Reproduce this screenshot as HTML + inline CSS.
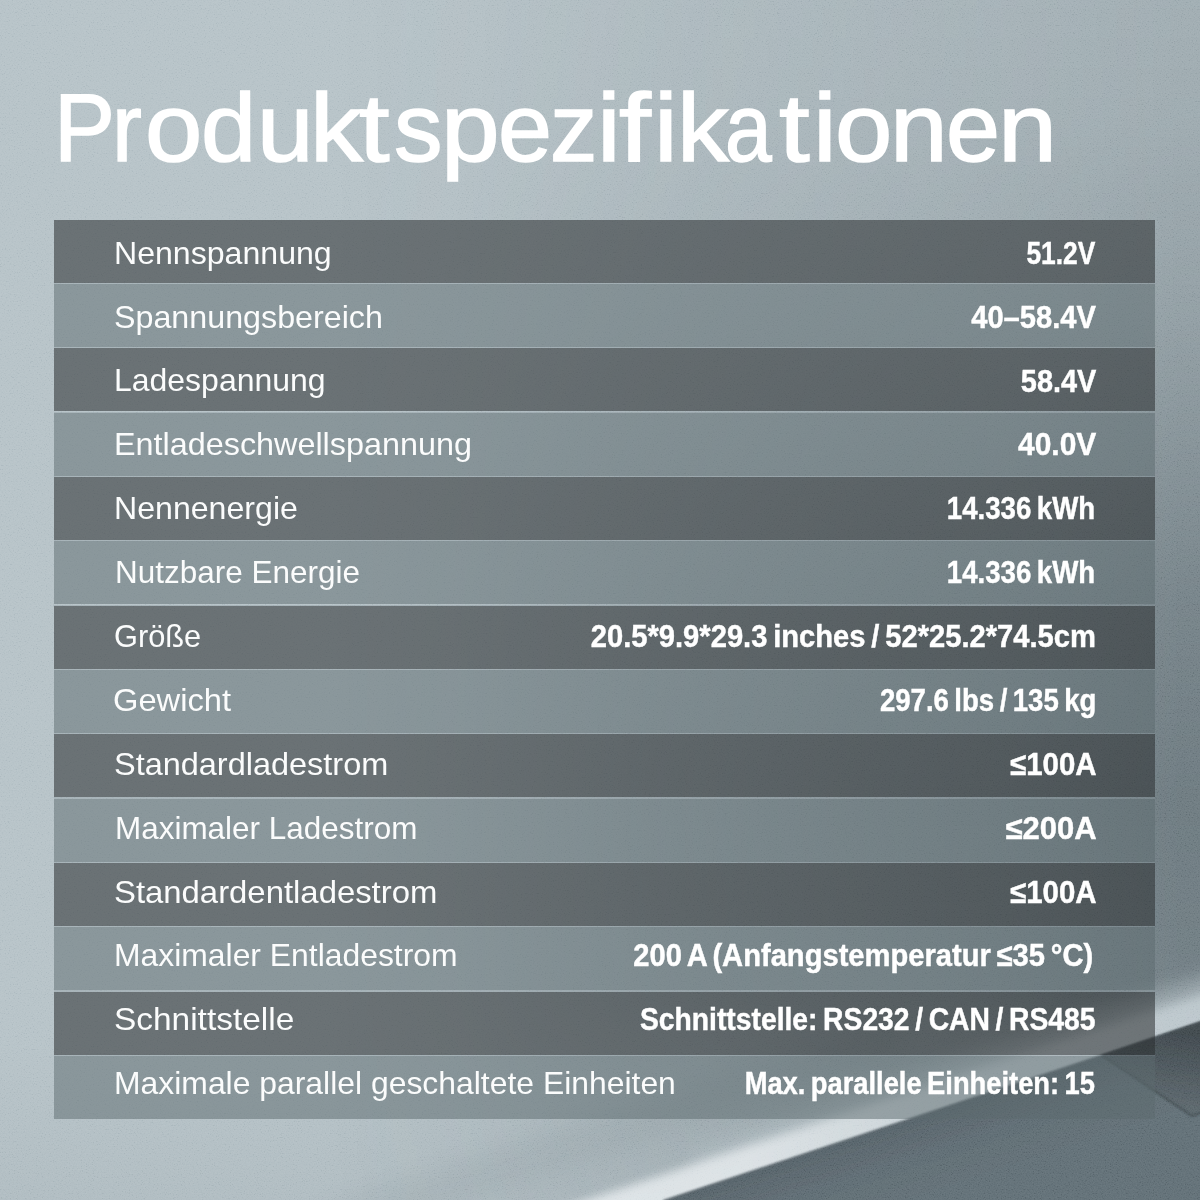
<!DOCTYPE html>
<html lang="de"><head><meta charset="utf-8"><title>Produktspezifikationen</title>
<style>
html,body{margin:0;padding:0}
body{width:1200px;height:1200px;overflow:hidden;position:relative;background:#b7c3c8;font-family:"Liberation Sans",sans-serif;color:#fff}
svg.bg{position:absolute;left:0;top:0;width:1200px;height:1200px;display:block}
.r{position:absolute;left:54.0px;width:1101.3px}
.d{background:rgba(42,45,48,.55)}
.g{background:rgba(92,105,110,.5)}
.s{position:absolute;left:54.0px;width:1101.3px;height:1.3px;background:rgba(138,150,156,.33)}
.t{position:absolute;white-space:nowrap;line-height:1;margin:0}
.l{font-size:32.0px;font-weight:400;transform-origin:0 0;color:#fbfcfc}
.v{font-size:31.5px;font-weight:700;word-spacing:-2.5px;-webkit-text-stroke:.45px #fff;transform-origin:100% 0;color:#fff}
h1.t{font-size:97.0px;font-weight:400;-webkit-text-stroke:1.5px #fff;color:#fff}
h1.t span{position:absolute;top:0;left:0;display:block;line-height:1;transform-origin:0 82.11px}
</style></head><body>

<svg class="bg" viewBox="0 0 1200 1200" width="1200" height="1200">
<defs>
<linearGradient id="ga" gradientUnits="userSpaceOnUse" x1="0" y1="0" x2="0" y2="1200">
<stop offset="0" stop-color="#26343b" stop-opacity=".15"/>
<stop offset=".096" stop-color="#26343b" stop-opacity=".165"/>
<stop offset=".262" stop-color="#26343b" stop-opacity=".25"/>
<stop offset=".5" stop-color="#26343b" stop-opacity=".44"/>
<stop offset=".667" stop-color="#26343b" stop-opacity=".5"/>
<stop offset=".83" stop-color="#26343b" stop-opacity=".47"/>
<stop offset=".92" stop-color="#26343b" stop-opacity=".3"/>
<stop offset="1" stop-color="#26343b" stop-opacity=".22"/>
</linearGradient>
<linearGradient id="gm" gradientUnits="userSpaceOnUse" x1="330" y1="0" x2="1180" y2="0">
<stop offset="0.000" stop-color="#fff" stop-opacity="0.000"/><stop offset="0.147" stop-color="#fff" stop-opacity="0.100"/><stop offset="0.382" stop-color="#fff" stop-opacity="0.360"/><stop offset="0.671" stop-color="#fff" stop-opacity="0.640"/><stop offset="0.788" stop-color="#fff" stop-opacity="0.750"/><stop offset="1.000" stop-color="#fff" stop-opacity="1.000"/>
</linearGradient>
<mask id="mr" maskUnits="userSpaceOnUse" x="0" y="0" width="1200" height="1200"><rect width="1200" height="1200" fill="url(#gm)"/></mask>
<linearGradient id="gbc" gradientUnits="userSpaceOnUse" x1="600" y1="0" x2="1200" y2="0">
<stop offset="0" stop-color="#dde3e6"/><stop offset=".25" stop-color="#dbe1e4"/><stop offset=".5" stop-color="#cdd6da"/><stop offset=".67" stop-color="#c4ced3"/><stop offset="1" stop-color="#bcc7cc"/>
</linearGradient>
<linearGradient id="gl" gradientUnits="userSpaceOnUse" x1="0" y1="1040" x2="0" y2="1200"><stop offset="0" stop-color="#26343b" stop-opacity="0"/><stop offset="1" stop-color="#26343b" stop-opacity=".045"/></linearGradient>
<linearGradient id="gf" gradientUnits="userSpaceOnUse" x1="900" y1="1121.4" x2="925" y2="1197">
<stop offset="0" stop-color="#58646b"/><stop offset=".5" stop-color="#616e75"/><stop offset="1" stop-color="#647178"/>
</linearGradient>
<linearGradient id="gx" gradientUnits="userSpaceOnUse" x1="1160" y1="1030" x2="1150" y2="1100"><stop offset="0" stop-color="#424b50"/><stop offset="1" stop-color="#5c676d"/></linearGradient>
<filter id="nz" x="0" y="0" width="100%" height="100%"><feTurbulence type="fractalNoise" baseFrequency="0.75" numOctaves="2" seed="7"/><feColorMatrix type="matrix" values="1.6 0 0 0 -0.4  1.6 0 0 0 -0.4  1.6 0 0 0 -0.4  0 0 0 0 1"/></filter>
<filter id="b1" x="-5%" y="-5%" width="110%" height="110%"><feGaussianBlur stdDeviation="0.9"/></filter>
<filter id="b6" x="-10%" y="-30%" width="120%" height="160%"><feGaussianBlur stdDeviation="5"/></filter>
<filter id="b14" x="-20%" y="-40%" width="140%" height="180%"><feGaussianBlur stdDeviation="10"/></filter>
<filter id="b12" x="-20%" y="-40%" width="140%" height="180%"><feGaussianBlur stdDeviation="12"/></filter>
</defs>
<rect width="1200" height="1200" fill="#b7c3c8"/>
<rect y="1040" width="1200" height="160" fill="url(#gl)"/>
<rect width="1200" height="1200" fill="url(#ga)" mask="url(#mr)"/>
<polygon points="300,1215 900,1016 900,1060 430,1215" fill="#26343b" opacity=".05" filter="url(#b12)"/>
<polygon points="709.4,1216.2 1299.4,1020.6 1277.4,954.2 986.8,1048.4 690.6,1159.3" fill="#bcc7cc" opacity=".6" filter="url(#b14)"/>
<polygon points="489.4,1289.1 1299.4,1020.6 1282.1,968.4 472.4,1237.9" fill="url(#gbc)" filter="url(#b6)"/>
<polygon points="663,1200 1200,1022 1210,1022 1210,1210 663,1210" fill="url(#gf)" filter="url(#b1)"/>
<polygon points="1102,1055 1205,1019.5 1205,1111 1192,1116" fill="url(#gx)" filter="url(#b1)"/>
<path d="M1102,1055.5 L1192,1116 L1205,1111" fill="none" stroke="#3d464a" stroke-width="1.6" opacity=".8" filter="url(#b1)"/>
<rect width="1200" height="1200" filter="url(#nz)" opacity=".17" style="mix-blend-mode:soft-light"/>
</svg>

<div class="r d" style="top:220.00px;height:62.85px"></div>
<div class="r g" style="top:284.15px;height:63.03px"></div>
<div class="r d" style="top:348.48px;height:63.03px"></div>
<div class="r g" style="top:412.81px;height:63.03px"></div>
<div class="r d" style="top:477.14px;height:63.03px"></div>
<div class="r g" style="top:541.47px;height:63.03px"></div>
<div class="r d" style="top:605.80px;height:63.03px"></div>
<div class="r g" style="top:670.13px;height:63.03px"></div>
<div class="r d" style="top:734.46px;height:63.03px"></div>
<div class="r g" style="top:798.79px;height:63.03px"></div>
<div class="r d" style="top:863.12px;height:63.03px"></div>
<div class="r g" style="top:927.45px;height:63.03px"></div>
<div class="r d" style="top:991.78px;height:63.03px"></div>
<div class="r g" style="top:1056.11px;height:62.69px"></div>
<div class="s" style="top:282.85px"></div>
<div class="s" style="top:347.18px"></div>
<div class="s" style="top:411.51px"></div>
<div class="s" style="top:475.84px"></div>
<div class="s" style="top:540.17px"></div>
<div class="s" style="top:604.50px"></div>
<div class="s" style="top:668.83px"></div>
<div class="s" style="top:733.16px"></div>
<div class="s" style="top:797.49px"></div>
<div class="s" style="top:861.82px"></div>
<div class="s" style="top:926.15px"></div>
<div class="s" style="top:990.48px"></div>
<div class="s" style="top:1054.81px"></div>
<h1 class="t" id="title" style="left:0;top:79.39px;width:1200px;height:97.0px">
<span id="c0" style="left:53.50px;transform:scale(0.9436,1.0000)">P</span>
<span id="c1" style="left:112.00px;transform:scale(0.9231,1.0000)">r</span>
<span id="c2" style="left:145.00px;transform:scale(1.0625,1.0000)">o</span>
<span id="c3" style="left:201.00px;transform:scale(1.0217,1.0000)">d</span>
<span id="c4" style="left:257.00px;transform:scale(1.0468,1.0000)">u</span>
<span id="c5" style="left:310.00px;transform:scale(1.0909,1.0000)">k</span>
<span id="c6" style="left:359.00px;transform:scale(1.1342,1.0000)">t</span>
<span id="c7" style="left:394.00px;transform:scale(1.0000,1.0000)">s</span>
<span id="c8" style="left:441.00px;transform:scale(1.0874,1.0000)">p</span>
<span id="c9" style="left:498.00px;transform:scale(1.0002,1.0000)">e</span>
<span id="c10" style="left:550.00px;transform:scale(0.9762,1.0000)">z</span>
<span id="c11" style="left:597.00px;transform:scale(1.1000,1.0000)">i</span>
<span id="c12" style="left:619.00px;transform:scale(1.1797,1.0000)">f</span>
<span id="c13" style="left:654.00px;transform:scale(1.1000,1.0000)">i</span>
<span id="c14" style="left:677.00px;transform:scale(1.0682,1.0000)">k</span>
<span id="c15" style="left:725.00px;transform:scale(0.8663,1.0000)">a</span>
<span id="c16" style="left:778.50px;transform:scale(1.1385,1.0000)">t</span>
<span id="c17" style="left:813.00px;transform:scale(1.1000,1.0000)">i</span>
<span id="c18" style="left:835.00px;transform:scale(1.0625,1.0000)">o</span>
<span id="c19" style="left:890.00px;transform:scale(1.0698,1.0000)">n</span>
<span id="c20" style="left:946.00px;transform:scale(1.0000,1.0000)">e</span>
<span id="c21" style="left:998.00px;transform:scale(1.0930,1.0000)">n</span>
</h1>
<div class="t l" id="l0" style="left:114.00px;top:236.71px;transform:scaleX(1.0028)">Nennspannung</div>
<div class="t l" id="l1" style="left:114.00px;top:300.59px;transform:scaleX(1.0076)">Spannungsbereich</div>
<div class="t l" id="l2" style="left:114.00px;top:364.47px;transform:scaleX(0.9991)">Ladespannung</div>
<div class="t l" id="l3" style="left:114.00px;top:428.35px;transform:scaleX(1.0109)">Entladeschwellspannung</div>
<div class="t l" id="l4" style="left:114.00px;top:492.23px;transform:scaleX(1.0034)">Nennenergie</div>
<div class="t l" id="l5" style="left:115.00px;top:556.11px;transform:scaleX(0.9837)">Nutzbare Energie</div>
<div class="t l" id="l6" style="left:114.00px;top:619.99px;transform:scaleX(0.9615)">Größe</div>
<div class="t l" id="l7" style="left:113.00px;top:683.87px;transform:scaleX(1.0211)">Gewicht</div>
<div class="t l" id="l8" style="left:114.00px;top:747.75px;transform:scaleX(1.0142)">Standardladestrom</div>
<div class="t l" id="l9" style="left:115.00px;top:811.63px;transform:scaleX(0.9829)">Maximaler Ladestrom</div>
<div class="t l" id="l10" style="left:114.00px;top:875.51px;transform:scaleX(1.0269)">Standardentladestrom</div>
<div class="t l" id="l11" style="left:114.00px;top:939.39px;transform:scaleX(0.9959)">Maximaler Entladestrom</div>
<div class="t l" id="l12" style="left:114.00px;top:1003.27px;transform:scaleX(1.0447)">Schnittstelle</div>
<div class="t l" id="l13" style="left:114.00px;top:1067.15px;transform:scaleX(0.9964)">Maximale parallel geschaltete Einheiten</div>
<div class="t v" id="v0" style="right:104.50px;top:237.74px;transform:scaleX(0.8366)">51.2V</div>
<div class="t v" id="v1" style="right:104.50px;top:301.62px;transform:scaleX(0.9245)">40–58.4V</div>
<div class="t v" id="v2" style="right:103.50px;top:365.50px;transform:scaleX(0.9171)">58.4V</div>
<div class="t v" id="v3" style="right:103.50px;top:429.38px;transform:scaleX(0.9512)">40.0V</div>
<div class="t v" id="v4" style="right:104.50px;top:493.26px;transform:scaleX(0.8771)">14.336 kWh</div>
<div class="t v" id="v5" style="right:104.50px;top:557.14px;transform:scaleX(0.8771)">14.336 kWh</div>
<div class="t v" id="v6" style="right:104.50px;top:621.02px;transform:scaleX(0.9254)">20.5*9.9*29.3 inches / 52*25.2*74.5cm</div>
<div class="t v" id="v7" style="right:103.50px;top:684.90px;transform:scaleX(0.8751)">297.6 lbs / 135 kg</div>
<div class="t v" id="v8" style="right:103.50px;top:748.78px;transform:scaleX(0.9341)">≤100A</div>
<div class="t v" id="v9" style="right:103.50px;top:812.66px;transform:scaleX(0.9847)">≤200A</div>
<div class="t v" id="v10" style="right:103.50px;top:876.54px;transform:scaleX(0.9341)">≤100A</div>
<div class="t v" id="v11" style="right:106.50px;top:940.42px;transform:scaleX(0.9249)">200 A (Anfangstemperatur ≤35 °C)</div>
<div class="t v" id="v12" style="right:104.50px;top:1004.30px;transform:scaleX(0.8976)">Schnittstelle: RS232 / CAN / RS485</div>
<div class="t v" id="v13" style="right:105.50px;top:1068.18px;transform:scaleX(0.8672)">Max. parallele Einheiten: 15</div>
</body></html>
